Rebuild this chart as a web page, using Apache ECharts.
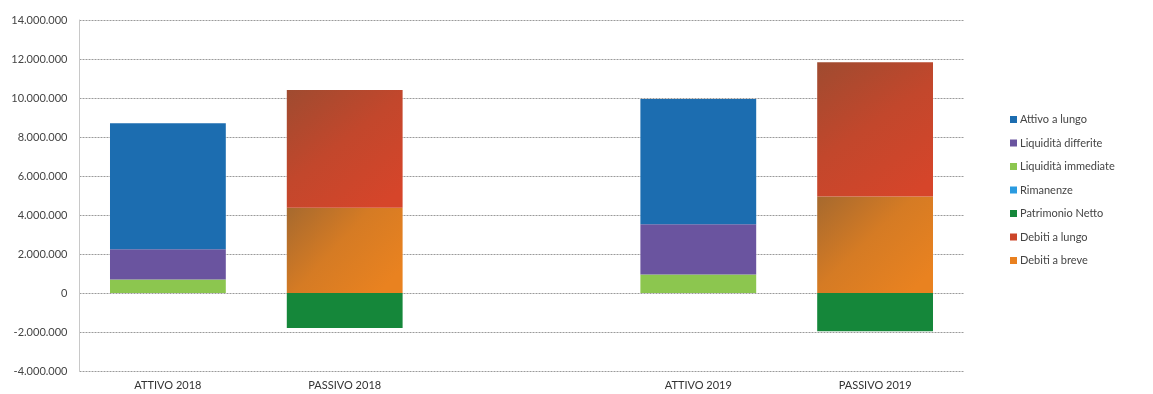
<!DOCTYPE html>
<html>
<head>
<meta charset="utf-8">
<script src="https://cdn.jsdelivr.net/npm/echarts@6/dist/echarts.min.js"></script>
<style>
  html, body { margin: 0; padding: 0; background: #fff; }
  #chart { width: 1153px; height: 394px; }
</style>
</head>
<body>
<div id="chart"></div>
<script>
// Stato patrimoniale: attivo e passivo 2018 / 2019 (valori in euro)
const categories = ['ATTIVO 2018', 'PASSIVO 2018', '', 'ATTIVO 2019', 'PASSIVO 2019'];

const attivoLungo        = [6460000, null, null, 6430000, null];
const liquiditaDifferite = [1550000, null, null, 2570000, null];
const liquiditaImmediate = [690000, null, null, 950000, null];
const rimanenze          = [0, null, null, 0, null];
const patrimonioNetto    = [null, -1800000, null, null, -1960000];
const debitiLungo        = [null, 6040000, null, null, 6880000];
const debitiBreve        = [null, 4370000, null, null, 4950000];

const yTicks = { min: -4000000, max: 14000000, interval: 2000000 };

const fontFamily = 'Lato, "Open Sans", sans-serif';

function fmt(v) {
  const s = Math.abs(v).toString().replace(/\B(?=(\d{3})+(?!\d))/g, '.');
  return (v < 0 ? '-' : '') + s;
}

function diag(c0, c1, c2) {
  return new echarts.graphic.LinearGradient(0, 0, 0.8, 1, [
    { offset: 0, color: c0 },
    { offset: 0.5, color: c1 },
    { offset: 1, color: c2 }
  ]);
}

const colors = {
  attivoLungo: '#1c6db0',
  liqDiff: '#6a549f',
  liqImm: '#8cc64f',
  rimanenze: '#2a9be0',
  patrimonio: '#15873a',
  debLungo: '#cc4529',
  debBreve: '#e9801f'
};

// Serie elencate dal basso verso l'alto della pila
const seriesDefs = [
  { name: 'Rimanenze', data: rimanenze, color: colors.rimanenze },
  { name: 'Liquidità immediate', data: liquiditaImmediate, color: colors.liqImm },
  { name: 'Liquidità differite', data: liquiditaDifferite, color: colors.liqDiff },
  { name: 'Attivo a lungo', data: attivoLungo, color: colors.attivoLungo },
  { name: 'Patrimonio Netto', data: patrimonioNetto, color: colors.patrimonio },
  { name: 'Debiti a breve', data: debitiBreve, color: diag('#a6692e', '#d57b24', '#e98220') },
  { name: 'Debiti a lungo', data: debitiLungo, color: diag('#9f4b30', '#c2472c', '#d6452a') }
];

const legendOrder = [
  ['Attivo a lungo', colors.attivoLungo],
  ['Liquidità differite', colors.liqDiff],
  ['Liquidità immediate', colors.liqImm],
  ['Rimanenze', colors.rimanenze],
  ['Patrimonio Netto', colors.patrimonio],
  ['Debiti a lungo', colors.debLungo],
  ['Debiti a breve', colors.debBreve]
];

const chart = echarts.init(document.getElementById('chart'), null, { renderer: 'canvas' });

chart.setOption({
  animation: false,
  backgroundColor: '#fff',
  textStyle: { fontFamily: fontFamily },
  grid: { left: 79.5, right: 189.5, top: 20, bottom: 23, containLabel: false },
  legend: {
    orient: 'vertical',
    left: 1005,
    top: 109,
    itemWidth: 7,
    itemHeight: 7,
    itemGap: 12.5,
    icon: 'rect',
    textStyle: { fontFamily: fontFamily, fontSize: 11, color: '#444', padding: [0, 0, 0, -2] },
    data: legendOrder.map(([n, c]) => ({ name: n, itemStyle: { color: c } }))
  },
  xAxis: {
    type: 'category',
    data: categories,
    axisLine: { show: false, onZero: false },
    axisTick: { show: false },
    axisLabel: { color: '#333', fontSize: 11, margin: 9, interval: 0, fontFamily: fontFamily },
    splitLine: { show: false }
  },
  yAxis: {
    type: 'value',
    min: yTicks.min,
    max: yTicks.max,
    interval: yTicks.interval,
    axisLine: { show: true, lineStyle: { color: '#c8c8c8', width: 1 } },
    axisTick: { show: false },
    axisLabel: { color: '#444', fontSize: 11, margin: 12, formatter: fmt, fontFamily: fontFamily },
    splitLine: { show: true, lineStyle: { color: '#9a9a9a', type: [2, 1], width: 1 } }
  },
  series: seriesDefs.map(s => ({
    name: s.name,
    type: 'bar',
    stack: 'totale',
    barWidth: '65.5%',
    data: s.data,
    itemStyle: { color: s.color },
    emphasis: { disabled: true }
  }))
});
</script>
</body>
</html>
